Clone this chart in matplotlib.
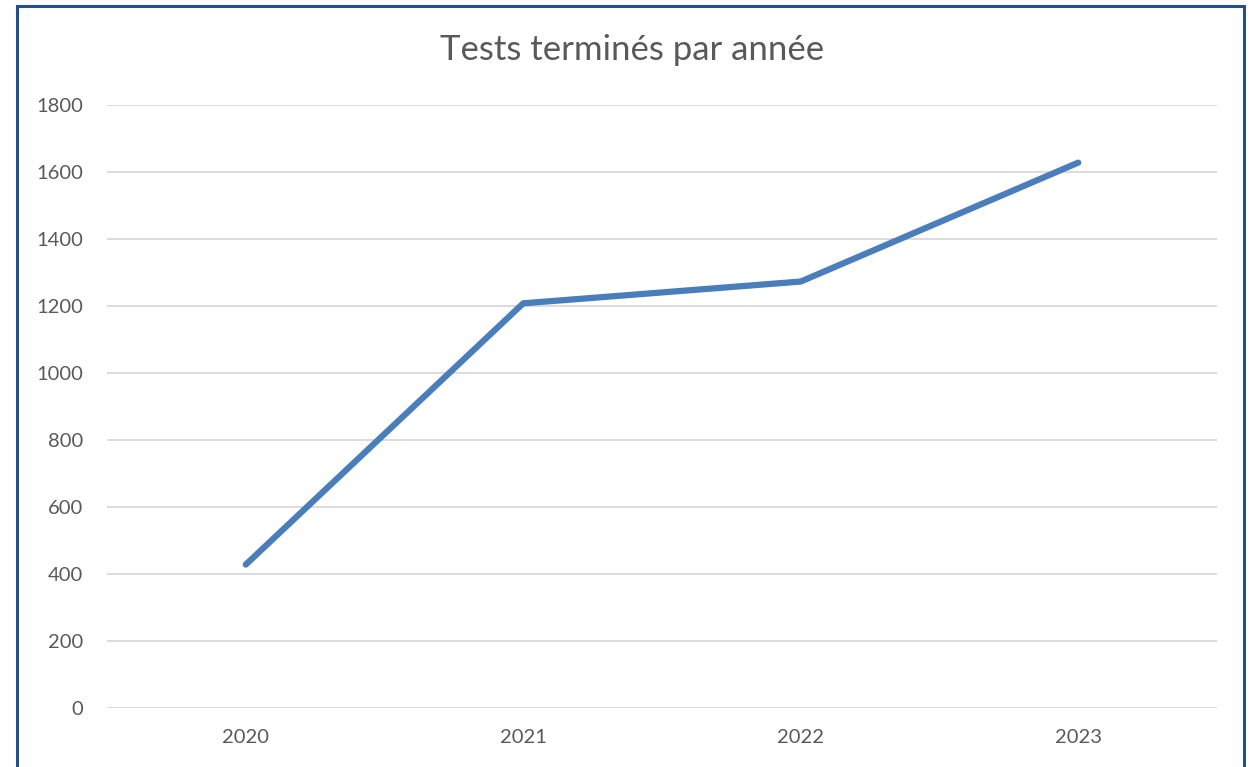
import matplotlib.pyplot as plt
from matplotlib.patches import Rectangle

# data
years = ['2020', '2021', '2022', '2023']
tests = [428, 1208, 1273, 1628]
y_ticks = [0, 200, 400, 600, 800, 1000, 1200, 1400, 1600, 1800]

W, H = 1251, 767
fig = plt.figure(figsize=(W / 100, H / 100), dpi=100)
plt.rcParams['font.family'] = ['Lato', 'DejaVu Sans']

# axes placed like the original (pixel box 107..1217 x 105..708)
ax = fig.add_axes([107 / W, (H - 708) / H, (1217 - 107) / W, (708 - 105) / H])

x = list(range(len(years)))
ax.plot(x, tests, color='#4a7ebb', linewidth=4.5, solid_capstyle='round',
        solid_joinstyle='round', zorder=3)

ax.set_xlim(-0.5, len(years) - 0.5)
ax.set_ylim(0, 1800)
ax.set_yticks(y_ticks)
ax.set_xticks(x)
ax.set_xticklabels(years)
ax.grid(axis='y', color='#d9d9d9', linewidth=1.3)
ax.set_axisbelow(True)
for s in ax.spines.values():
    s.set_visible(False)
ax.tick_params(axis='both', length=0, labelsize=14.5, labelcolor='#595959')
ax.tick_params(axis='y', pad=17)
ax.tick_params(axis='x', pad=15)

fig.text(632 / W, 1 - 50 / H, 'Tests terminés par année', ha='center', va='center',
         fontsize=25, color='#595959')

# dark blue frame around the chart, bottom edge runs off the picture
fig.patches.append(Rectangle((17 / W, -0.02), (1244 - 17) / W, 1.02 - 6 / H,
                             transform=fig.transFigure, fill=False,
                             edgecolor='#264d8c', linewidth=2.2))

fig.savefig('out.png', dpi=100)
